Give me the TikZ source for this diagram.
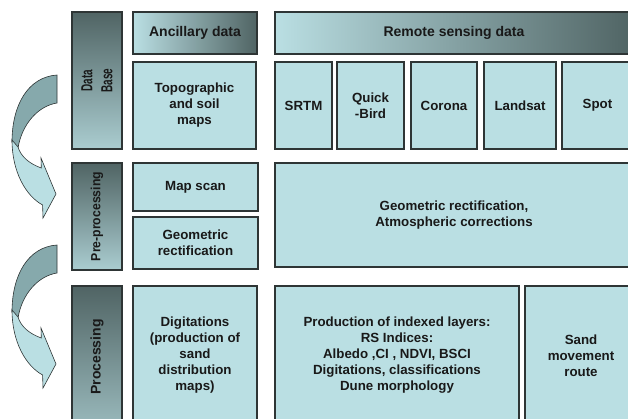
\documentclass[tikz,border=0pt]{standalone}
\usepackage{fontspec}
\setmainfont{Liberation Sans}
\newfontfamily\squishfont[FakeStretch=0.62]{Liberation Sans}
\newfontfamily\slimfont[FakeStretch=0.92]{Liberation Sans}
\usetikzlibrary{shadows}
\definecolor{cLight}{HTML}{BADFE3}
\definecolor{cDark}{HTML}{506464}
\definecolor{cEdge}{HTML}{2E3535}
\definecolor{cArrowDark}{HTML}{86A9AC}
\begin{document}
\begin{tikzpicture}[x=1pt,y=-1pt,
  span/.style n args={4}{minimum width={(#3-#1)*1pt}, minimum height={(#4-#2)*1pt},
    at={({(#1+#3)/2},{(#2+#4)/2})}},
  box/.style={draw=cEdge, line width=1.1pt, fill=cLight, inner sep=0pt, outer sep=0pt,
    align=center, font=\bfseries\fontsize{13.3}{16}\selectfont, text=black!90,
    drop shadow={shadow xshift=1.3pt, shadow yshift=-1.3pt, fill=black, opacity=0.45}},
  headbox/.style={box, left color=cLight, middle color=cLight!78!cDark, right color=cDark,
    font=\bfseries\fontsize{14}{16}\selectfont},
  colbox/.style={box, top color=cDark, middle color=cDark!45!cLight, bottom color=cLight!85!cDark},
  collabel/.style={rotate=90, align=center, inner sep=0pt, text=black!90},
  stagearrow/.pic={
    \path[draw=cEdge, line width=0.6pt, fill=cArrowDark]
      (57,75) .. controls (28,77) and (12,105) .. (12,142) -- (18,148)
      .. controls (22,124) and (38,106) .. (57,103) -- cycle;
    \path[draw=cEdge, line width=0.6pt, fill=cLight]
      (12,140) .. controls (12,172) and (26,196) .. (42.6,205) -- (43,218) -- (56,194)
      -- (41,158) -- (41.3,168) .. controls (30,164) and (21,157) .. (18,147) -- cycle;
  }]
\useasboundingbox (0,0) rectangle (628,418);
\clip (0,0) rectangle (628,418);

% stage arrows
\pic {stagearrow};
\pic[shift={(0,170)}] {stagearrow};

% left stage columns
\node[colbox, span={72}{12}{122}{149}] (db) {};
\node[colbox, span={72}{163}{122}{270}] (pp) {};
\node[colbox, span={72}{286}{122}{428}, bottom color=cLight!70!cDark] (pr) {};
\node[collabel, font=\squishfont\bfseries\fontsize{16}{20}\selectfont] (dbt) at (db.center) {Data\\Base};
\node[collabel, font=\slimfont\bfseries\fontsize{13.3}{16}\selectfont] (ppt) at (pp.center) {Pre-processing};
\node[collabel, font=\bfseries\fontsize{14}{16}\selectfont] (prt) at (pr.center) {Processing};

% data base row
\node[headbox, span={133}{12}{257}{54}] (anc) {Ancillary data};
\node[headbox, span={275}{12}{633}{54}] (rs) {Remote sensing data};
\node[box, span={133}{62}{256}{149}] (topo) {Topographic\\and soil\\maps};
\node[box, span={275}{62}{332}{149}] (srtm) {SRTM};
\node[box, span={337}{62}{404}{149}] (qb) {Quick\\-Bird};
\node[box, span={411}{62}{477}{149}] (cor) {Corona};
\node[box, span={484}{62}{556}{149}] (lan) {Landsat};
\node[box, span={562}{62}{633}{149}] (spot) {Spot};

% pre-processing row
\node[box, span={133}{163}{258}{211}] (mscan) {Map scan};
\node[box, span={133}{217}{258}{269}] (grect) {Geometric\\rectification};
\node[box, span={275}{163}{633}{267}] (gatm) {Geometric rectification,\\Atmospheric corrections};

% processing row
\node[box, span={133}{286}{257}{425}] (dig) {Digitations\\(production of\\sand\\distribution\\maps)};
\node[box, span={275}{286}{519}{425}] (prod) {Production of indexed layers:\\RS Indices:\\Albedo ,CI , NDVI, BSCI\\Digitations, classifications\\Dune morphology};
\node[box, span={525}{286}{637}{425}] (sand) {Sand\\movement\\route};
\end{tikzpicture}
\end{document}
